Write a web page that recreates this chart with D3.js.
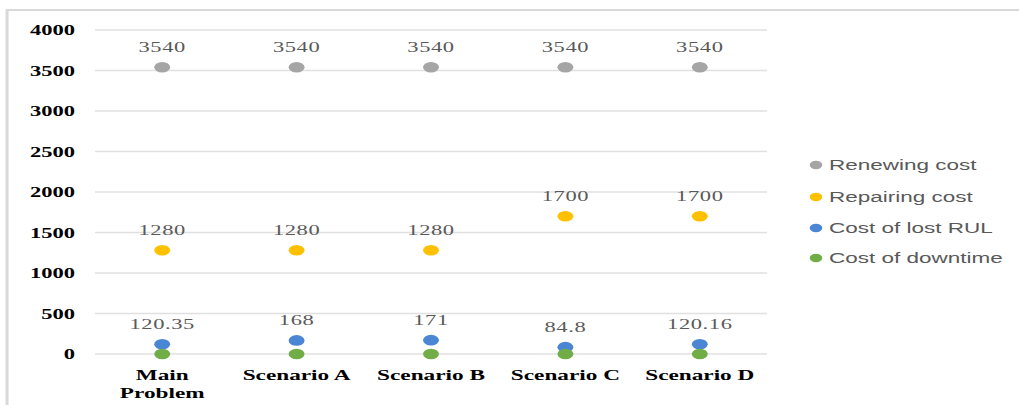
<!DOCTYPE html>
<html>
<head>
<meta charset="utf-8">
<script src="https://cdn.jsdelivr.net/npm/d3@7"></script>
<style>
  html, body { margin: 0; padding: 0; background: #fff; }
  svg { display: block; }
</style>
</head>
<body>
<svg id="chart"></svg>
<script>
// Cost components per scenario
const categories = [["Main", "Problem"], ["Scenario A"], ["Scenario B"], ["Scenario C"], ["Scenario D"]];
const renewingCost = [3540, 3540, 3540, 3540, 3540];
const repairingCost = [1280, 1280, 1280, 1700, 1700];
const lostRulCost = [120.35, 168, 171, 84.8, 120.16];
const downtimeCost = [0, 0, 0, 0, 0];
const yTicks = [0, 500, 1000, 1500, 2000, 2500, 3000, 3500, 4000];

const seriesNames = ["Renewing cost", "Repairing cost", "Cost of lost RUL", "Cost of downtime"];
const seriesColors = ["#A5A5A5", "#FFC000", "#4A86D4", "#70AD47"];
const seriesValues = [renewingCost, repairingCost, lostRulCost, downtimeCost];
const seriesLabelled = [true, true, true, false];

// The drawing is laid out in a narrower coordinate space and stretched wide.
const W = 1019, H = 405, stretch = 1.5;
const VW = W / stretch;

const svg = d3.select("#chart")
  .attr("width", W).attr("height", H)
  .attr("viewBox", `0 0 ${VW} ${H}`)
  .attr("preserveAspectRatio", "none");

// Chart frame
svg.append("rect")
  .attr("x", 4.7).attr("y", 10)
  .attr("width", VW + 10).attr("height", H + 10)
  .attr("fill", "#fff")
  .attr("stroke", "#d9d9d9").attr("stroke-width", 2);

const x = d3.scaleBand()
  .domain(d3.range(categories.length))
  .range([95 / stretch, 767 / stretch]);

const y = d3.scaleLinear().domain([0, 4000]).range([354, 30]);

// Gridlines
svg.append("g")
  .selectAll("line").data(yTicks).join("line")
  .attr("x1", x.range()[0]).attr("x2", x.range()[1])
  .attr("y1", d => y(d)).attr("y2", d => y(d))
  .attr("stroke", "#e0e0e0").attr("stroke-width", 1.3);

// Y axis labels
const yAxis = d3.axisLeft(y).tickValues(yTicks).tickSize(0).tickPadding(0).tickFormat(d3.format("d"));
const yg = svg.append("g").attr("transform", `translate(${75 / stretch},0)`).call(yAxis);
yg.select(".domain").remove();
yg.selectAll("text")
  .attr("font-family", "'Liberation Serif', 'Times New Roman', serif")
  .attr("font-weight", "bold").attr("font-size", 15).attr("fill", "#000")
  .attr("dy", "0.32em");

// X axis labels (multi-line)
const xg = svg.append("g");
xg.selectAll("text").data(categories).join("text")
  .attr("x", (d, i) => x(i) + x.bandwidth() / 2)
  .attr("y", 380)
  .attr("text-anchor", "middle")
  .attr("font-family", "'Liberation Serif', 'Times New Roman', serif")
  .attr("font-weight", "bold").attr("font-size", 15.5).attr("fill", "#000")
  .each(function (lines) {
    d3.select(this).selectAll("tspan").data(lines).join("tspan")
      .attr("x", d3.select(this).attr("x"))
      .attr("dy", (d, j) => j === 0 ? 0 : 18)
      .text(d => d);
  });

// Points and value labels
seriesValues.forEach((vals, s) => {
  const g = svg.append("g");
  g.selectAll("circle").data(vals).join("circle")
    .attr("cx", (d, i) => x(i) + x.bandwidth() / 2)
    .attr("cy", d => y(d))
    .attr("r", 5.3)
    .attr("fill", seriesColors[s]);
  if (seriesLabelled[s]) {
    g.selectAll("text").data(vals).join("text")
      .attr("x", (d, i) => x(i) + x.bandwidth() / 2)
      .attr("y", d => y(d) - 15)
      .attr("text-anchor", "middle")
      .attr("font-family", "'Liberation Serif', 'Times New Roman', serif")
      .attr("font-size", 15).attr("letter-spacing", 0.4).attr("fill", "#595959")
      .text(d => String(d));
  }
});

// Legend
const legendRows = [165, 197, 228, 258];
const legend = svg.append("g");
seriesNames.forEach((name, s) => {
  legend.append("circle")
    .attr("cx", 816 / stretch).attr("cy", legendRows[s])
    .attr("r", 4.2).attr("fill", seriesColors[s]);
  legend.append("text")
    .attr("x", 829 / stretch).attr("y", legendRows[s] + 5)
    .attr("font-family", "'Liberation Sans', Arial, sans-serif")
    .attr("font-size", 15).attr("fill", "#595959")
    .text(name);
});
</script>
</body>
</html>
